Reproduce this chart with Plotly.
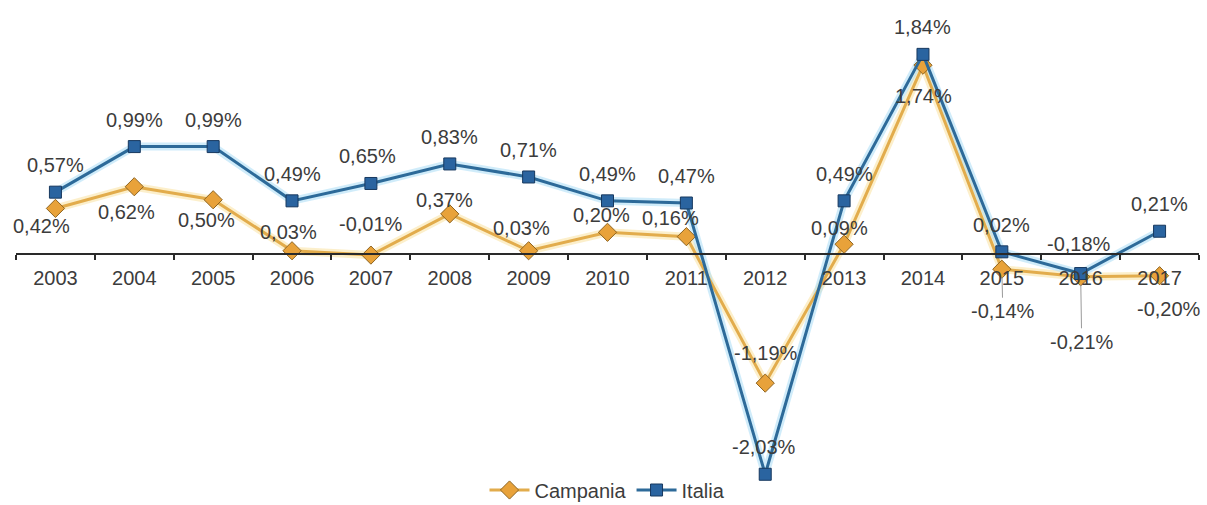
import plotly.graph_objects as go

# Annual percentage change, Campania vs Italia
years = ["2003", "2004", "2005", "2006", "2007", "2008", "2009", "2010",
         "2011", "2012", "2013", "2014", "2015", "2016", "2017"]
campania = [0.42, 0.62, 0.50, 0.03, -0.01, 0.37, 0.03, 0.20,
            0.16, -1.19, 0.09, 1.74, -0.14, -0.21, -0.20]
italia = [0.57, 0.99, 0.99, 0.49, 0.65, 0.83, 0.71, 0.49,
          0.47, -2.03, 0.49, 1.84, 0.02, -0.18, 0.21]

# label placement (pixel shifts from each point: dx right, dy down)
campania_label_shift = [(-14, 18), (-8, 25), (-7, 20), (-4, -19), (0, -31),
                        (-5, -14), (-7, -23), (-6, -17), (-16, -19), (1, -30),
                        (-5, -16), (1, 31), (1, 42), (1, 65), (9, 33)]
italia_label_shift = [(0, -27), (0, -27), (0, -27), (0, -27), (-3, -27),
                      (0, -27), (0, -27), (0, -27), (0, -27), (-1, -27),
                      (0, -27), (0, -27), (0, -27), (-2, -30), (0, -27)]
campania_leader = {"2015", "2016"}

FONT = "Liberation Sans, Arial, sans-serif"
TEXT = "#3c3c3c"
Y_MIN, Y_MAX = -2.175, 2.341


def pct(v):
    return f"{v:.2f}".replace(".", ",") + "%"


fig = go.Figure()

# soft glow under each line
fig.add_trace(go.Scatter(x=years, y=campania, mode="lines", showlegend=False,
                         hoverinfo="skip",
                         line=dict(color="rgba(250,225,160,0.55)", width=8)))
fig.add_trace(go.Scatter(x=years, y=italia, mode="lines", showlegend=False,
                         hoverinfo="skip",
                         line=dict(color="rgba(170,220,245,0.55)", width=8)))

fig.add_trace(go.Scatter(
    x=years, y=campania, name="Campania", mode="lines+markers",
    line=dict(color="#E2AC4C", width=3),
    marker=dict(symbol="diamond", size=14, color="#E8A23A",
                line=dict(color="#8E6420", width=1)),
    cliponaxis=False,
))
fig.add_trace(go.Scatter(
    x=years, y=italia, name="Italia", mode="lines+markers",
    line=dict(color="#2D6A99", width=3),
    marker=dict(symbol="square", size=12, color="#2A64A0",
                line=dict(color="#17385E", width=1)),
    cliponaxis=False,
))

annotations = []
# category positions are given by index so year-like strings are not read as numbers
for i, (v, (dx, dy)) in enumerate(zip(italia, italia_label_shift)):
    annotations.append(dict(x=i, y=v, text=pct(v), showarrow=False,
                            xshift=dx, yshift=-dy,
                            font=dict(family=FONT, size=20, color=TEXT)))
for i, (yr, v, (dx, dy)) in enumerate(zip(years, campania, campania_label_shift)):
    if yr in campania_leader:
        annotations.append(dict(x=i, y=v, text=pct(v), showarrow=True,
                                arrowhead=0, arrowwidth=1, arrowcolor="#9a9a9a",
                                ax=dx, ay=dy, standoff=8, borderpad=2,
                                font=dict(family=FONT, size=20, color=TEXT)))
    else:
        annotations.append(dict(x=i, y=v, text=pct(v), showarrow=False,
                                xshift=dx, yshift=-dy,
                                font=dict(family=FONT, size=20, color=TEXT)))

zero_pos = (0 - Y_MIN) / (Y_MAX - Y_MIN)

fig.update_layout(
    width=1207, height=505,
    margin=dict(l=16, r=8, t=0, b=15, autoexpand=False),
    paper_bgcolor="white", plot_bgcolor="white",
    font=dict(family=FONT, size=20, color=TEXT),
    showlegend=True,
    legend=dict(orientation="h", x=0.5, xanchor="center", y=0.0,
                yanchor="middle", font=dict(size=20, color=TEXT),
                bgcolor="rgba(0,0,0,0)", itemwidth=40),
    xaxis=dict(type="category", range=[-0.5, len(years) - 0.5],
               anchor="free", position=zero_pos,
               showline=True, linecolor="#2a2a2a", linewidth=1.5,
               ticks="outside", tickson="boundaries", ticklen=5,
               tickcolor="#2a2a2a", tickwidth=1.5,
               showgrid=False, zeroline=False, tickangle=0,
               tickfont=dict(size=20, color=TEXT), ticklabelstandoff=6),
    yaxis=dict(range=[Y_MIN, Y_MAX], visible=False, showgrid=False,
               zeroline=False),
    annotations=annotations,
)

fig.write_html("out.html")
